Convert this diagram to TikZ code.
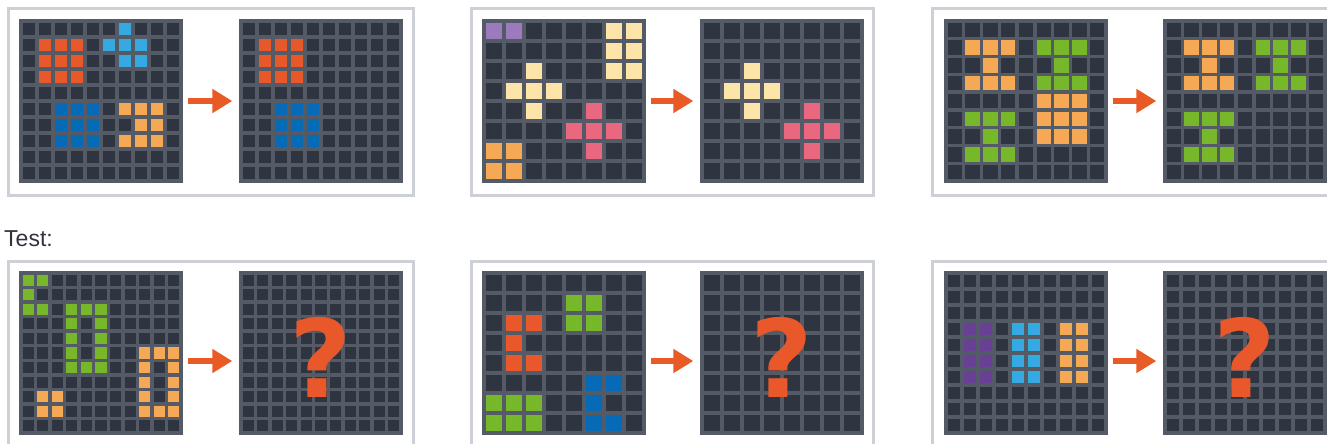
\documentclass[tikz,border=0pt]{standalone}
\usepackage{fontspec}
\setmainfont{Liberation Sans}
\newfontfamily\qfont{DejaVu Sans}
\usetikzlibrary{arrows.meta}
\definecolor{cellbg}{HTML}{2E3440}
\definecolor{gline}{HTML}{545B67}
\definecolor{cred}{HTML}{E8582A}
\definecolor{clblue}{HTML}{37A9E1}
\definecolor{cdblue}{HTML}{076AB6}
\definecolor{corange}{HTML}{F6A955}
\definecolor{cpurple}{HTML}{9B7BBD}
\definecolor{cdpurple}{HTML}{6A3F97}
\definecolor{cyellow}{HTML}{FDE4A8}
\definecolor{cpink}{HTML}{E9677F}
\definecolor{cgreen}{HTML}{77B82A}
\definecolor{framec}{HTML}{CDD1D7}
\definecolor{arrowc}{HTML}{E85A26}
\definecolor{textc}{HTML}{2F343D}
\tikzset{
  gridbox/.style={rectangle, minimum size=160pt, inner sep=0pt, fill=cellbg},
  gridline/.style={gline, line width=3.4pt, line cap=rect},
  panel/.style={framec, line width=3pt},
  arr/.style={arrowc, line width=6pt, -{Triangle[length=20pt,width=23pt]}, shorten <=6.5pt, shorten >=8.5pt},
  qmark/.style={anchor=base, text=cred, inner sep=0pt, font=\qfont\bfseries\fontsize{108}{108}\selectfont},
}
\newcommand{\gridlines}[3]{% x, y, n
  \begin{scope}[shift={(#1,#2)}]
  \pgfmathsetmacro\cs{160/#3}
  \foreach \i in {0,...,#3} {
    \draw[gridline] (\i*\cs,0) -- (\i*\cs,160);
    \draw[gridline] (0,\i*\cs) -- (160,\i*\cs);
  }
  \end{scope}}
\newcommand{\arcgrid}[5]{% name, x, y, n, cells r/c/colour
  \node[gridbox] (#1) at (#2+80,#3+80) {};
  \begin{scope}[shift={(#2,#3)}]
  \pgfmathsetmacro\cs{160/#4}
  \foreach \r/\c/\col in {#5} { \fill[\col] (\c*\cs,\r*\cs) rectangle ++(\cs,\cs); }
  \end{scope}
  \gridlines{#2}{#3}{#4}}
\newcommand{\emptygrid}[4]{% name, x, y, n
  \node[gridbox] (#1) at (#2+80,#3+80) {};
  \gridlines{#2}{#3}{#4}}
\begin{document}
\begin{tikzpicture}[x=1pt,y=-1pt]
\useasboundingbox (0,0) rectangle (1327,444);
\clip (0,0) rectangle (1327,444);
% panels
\draw[panel] (8.5,8.5) rectangle (413,195.5);
\draw[panel] (471.5,8.5) rectangle (873.5,195.5);
\draw[panel] (932.5,8.5) rectangle (1345,195.5);
\draw[panel] (8.5,261.5) rectangle (413,470);
\draw[panel] (471.5,261.5) rectangle (873.5,470);
\draw[panel] (932.5,261.5) rectangle (1345,470);
% test label
\node[anchor=base west, inner sep=0pt, text=textc, font=\fontsize{23}{23}\selectfont] (test) at (4,246) {Test:};
% example 1
\arcgrid{in1}{21}{21}{10}{0/6/clblue,1/5/clblue,1/6/clblue,1/7/clblue,2/6/clblue,2/7/clblue,
  1/1/cred,1/2/cred,1/3/cred,2/1/cred,2/2/cred,2/3/cred,3/1/cred,3/2/cred,3/3/cred,
  5/2/cdblue,5/3/cdblue,5/4/cdblue,6/2/cdblue,6/3/cdblue,6/4/cdblue,7/2/cdblue,7/3/cdblue,7/4/cdblue,
  5/6/corange,5/7/corange,5/8/corange,6/7/corange,6/8/corange,7/6/corange,7/7/corange,7/8/corange}
\arcgrid{out1}{241}{21}{10}{1/1/cred,1/2/cred,1/3/cred,2/1/cred,2/2/cred,2/3/cred,3/1/cred,3/2/cred,3/3/cred,
  5/2/cdblue,5/3/cdblue,5/4/cdblue,6/2/cdblue,6/3/cdblue,6/4/cdblue,7/2/cdblue,7/3/cdblue,7/4/cdblue}
% example 2
\arcgrid{in2}{484}{21}{8}{0/0/cpurple,0/1/cpurple,
  0/6/cyellow,0/7/cyellow,1/6/cyellow,1/7/cyellow,2/6/cyellow,2/7/cyellow,
  2/2/cyellow,3/1/cyellow,3/2/cyellow,3/3/cyellow,4/2/cyellow,
  4/5/cpink,5/4/cpink,5/5/cpink,5/6/cpink,6/5/cpink,
  6/0/corange,6/1/corange,7/0/corange,7/1/corange}
\arcgrid{out2}{702}{21}{8}{2/2/cyellow,3/1/cyellow,3/2/cyellow,3/3/cyellow,4/2/cyellow,
  4/5/cpink,5/4/cpink,5/5/cpink,5/6/cpink,6/5/cpink}
% example 3
\arcgrid{in3}{946}{21}{9}{1/1/corange,1/2/corange,1/3/corange,2/2/corange,3/1/corange,3/2/corange,3/3/corange,
  1/5/cgreen,1/6/cgreen,1/7/cgreen,2/6/cgreen,3/5/cgreen,3/6/cgreen,3/7/cgreen,
  4/5/corange,4/6/corange,4/7/corange,5/5/corange,5/6/corange,5/7/corange,6/5/corange,6/6/corange,6/7/corange,
  5/1/cgreen,5/2/cgreen,5/3/cgreen,6/2/cgreen,7/1/cgreen,7/2/cgreen,7/3/cgreen}
\arcgrid{out3}{1165}{21}{9}{1/1/corange,1/2/corange,1/3/corange,2/2/corange,3/1/corange,3/2/corange,3/3/corange,
  1/5/cgreen,1/6/cgreen,1/7/cgreen,2/6/cgreen,3/5/cgreen,3/6/cgreen,3/7/cgreen,
  5/1/cgreen,5/2/cgreen,5/3/cgreen,6/2/cgreen,7/1/cgreen,7/2/cgreen,7/3/cgreen}
% test 1
\arcgrid{in4}{21}{273}{11}{0/0/cgreen,0/1/cgreen,1/0/cgreen,2/0/cgreen,2/1/cgreen,
  2/3/cgreen,2/4/cgreen,2/5/cgreen,3/3/cgreen,3/5/cgreen,4/3/cgreen,4/5/cgreen,5/3/cgreen,5/5/cgreen,6/3/cgreen,6/4/cgreen,6/5/cgreen,
  5/8/corange,5/9/corange,5/10/corange,6/8/corange,6/10/corange,7/8/corange,7/10/corange,8/8/corange,8/10/corange,9/8/corange,9/9/corange,9/10/corange,
  8/1/corange,8/2/corange,9/1/corange,9/2/corange}
\emptygrid{out4}{241}{273}{11}
% test 2
\arcgrid{in5}{484}{273}{8}{1/4/cgreen,1/5/cgreen,2/4/cgreen,2/5/cgreen,
  2/1/cred,2/2/cred,3/1/cred,4/1/cred,4/2/cred,
  5/5/cdblue,5/6/cdblue,6/5/cdblue,7/5/cdblue,7/6/cdblue,
  6/0/cgreen,6/1/cgreen,6/2/cgreen,7/0/cgreen,7/1/cgreen,7/2/cgreen}
\emptygrid{out5}{702}{273}{8}
% test 3
\arcgrid{in6}{946}{273}{10}{3/1/cdpurple,3/2/cdpurple,4/1/cdpurple,4/2/cdpurple,5/1/cdpurple,5/2/cdpurple,6/1/cdpurple,6/2/cdpurple,
  3/4/clblue,3/5/clblue,4/4/clblue,4/5/clblue,5/4/clblue,5/5/clblue,6/4/clblue,6/5/clblue,
  3/7/corange,3/8/corange,4/7/corange,4/8/corange,5/7/corange,5/8/corange,6/7/corange,6/8/corange}
\emptygrid{out6}{1165}{273}{10}
% question marks
\node[qmark] (q4) at (321,397) {?};
\node[qmark] (q5) at (782,397) {?};
\node[qmark] (q6) at (1245,397) {?};
% arrows
\draw[arr] (in1.east) -- (out1.west);
\draw[arr] (in2.east) -- (out2.west);
\draw[arr] (in3.east) -- (out3.west);
\draw[arr] ([yshift=-8pt]in4.east) -- ([yshift=-8pt]out4.west);
\draw[arr] ([yshift=-8pt]in5.east) -- ([yshift=-8pt]out5.west);
\draw[arr] ([yshift=-8pt]in6.east) -- ([yshift=-8pt]out6.west);
\end{tikzpicture}
\end{document}
